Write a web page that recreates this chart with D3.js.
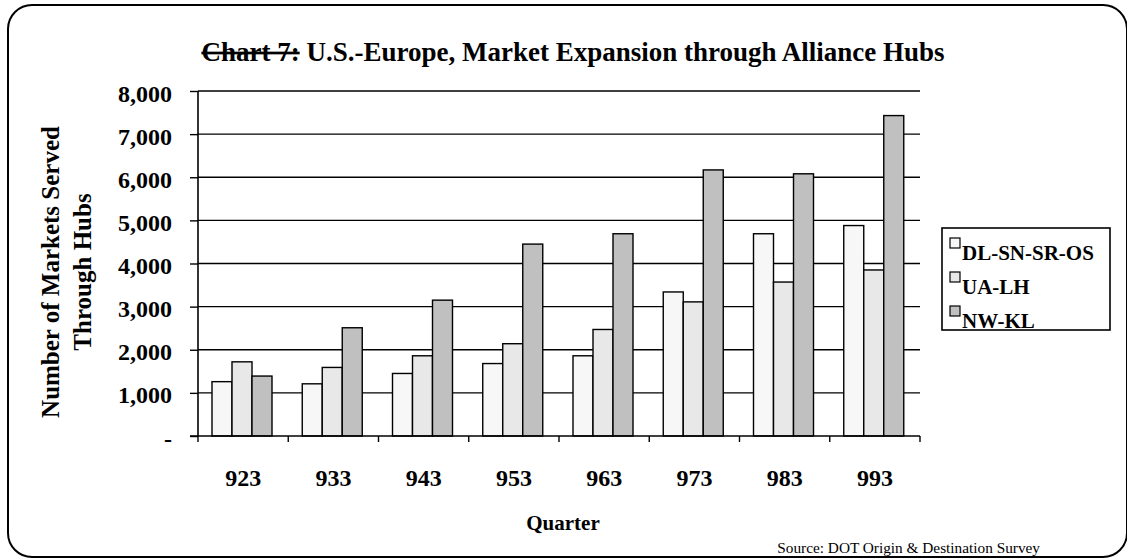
<!DOCTYPE html>
<html>
<head>
<meta charset="utf-8">
<script src="https://cdn.jsdelivr.net/npm/d3@7"></script>
<style>
  body { margin: 0; background: #fff; }
  text { font-family: "Liberation Serif", "Times New Roman", serif; fill: #000; }
</style>
</head>
<body>
<div id="chart"></div>
<script>
// data
var quarters = ["923", "933", "943", "953", "963", "973", "983", "993"];
var seriesNames = ["DL-SN-SR-OS", "UA-LH", "NW-KL"];
var dlValues = [1260, 1210, 1450, 1680, 1860, 3340, 4690, 4880];
var uaValues = [1720, 1590, 1860, 2140, 2470, 3110, 3570, 3850];
var nwValues = [1390, 2510, 3150, 4450, 4690, 6170, 6080, 7430];
var yTicks = [0, 1000, 2000, 3000, 4000, 5000, 6000, 7000, 8000];
var colors = ["#f7f7f7", "#e8e8e8", "#c0c0c0"];

var W = 1127, H = 560;
var svg = d3.select("#chart").append("svg")
    .attr("width", W)
    .attr("height", H);

// rounded outer frame
svg.append("rect")
    .attr("x", 8).attr("y", 5)
    .attr("width", 1119).attr("height", 552)
    .attr("rx", 24).attr("ry", 24)
    .attr("fill", "none")
    .attr("stroke", "#000")
    .attr("stroke-width", 2);

var plotLeft = 198, plotRight = 920, plotTop = 91, plotBottom = 436;

var x = d3.scaleBand().domain(quarters).range([plotLeft, plotRight]).padding(0);
var xInner = d3.scaleBand().domain(seriesNames).range([14, 74]).padding(0);
var y = d3.scaleLinear().domain([0, 8000]).range([plotBottom, plotTop]);

// gridlines
svg.append("g").selectAll("line")
    .data(yTicks.slice(1))
    .enter().append("line")
    .attr("x1", plotLeft).attr("x2", plotRight)
    .attr("y1", function(d){ return y(d); })
    .attr("y2", function(d){ return y(d); })
    .attr("stroke", "#000")
    .attr("stroke-width", 1.4);

// bars
var table = quarters.map(function(q, i){
    return [dlValues[i], uaValues[i], nwValues[i]];
});
var groups = svg.append("g").selectAll("g")
    .data(table)
    .enter().append("g")
    .attr("transform", function(d, i){ return "translate(" + x(quarters[i]) + ",0)"; });

groups.selectAll("rect")
    .data(function(d){ return d; })
    .enter().append("rect")
    .attr("x", function(d, j){ return xInner(seriesNames[j]); })
    .attr("width", xInner.bandwidth())
    .attr("y", function(d){ return y(d); })
    .attr("height", function(d){ return plotBottom - y(d); })
    .attr("fill", function(d, j){ return colors[j]; })
    .attr("stroke", "#000")
    .attr("stroke-width", 1.4);

// y axis
var yAxis = d3.axisLeft(y)
    .tickValues(yTicks)
    .tickSize(8)
    .tickPadding(18)
    .tickFormat(function(d){ return d === 0 ? "-" : d3.format(",")(d); });
var yg = svg.append("g")
    .attr("transform", "translate(" + plotLeft + ",0)")
    .call(yAxis);
yg.select(".domain").attr("stroke-width", 1.6).attr("d", "M0," + plotBottom + "V" + plotTop);
yg.selectAll(".tick line").attr("stroke-width", 1.4);
yg.selectAll("text")
    .style("font-family", "Liberation Serif")
    .style("font-weight", "bold")
    .style("font-size", "24px")
    .attr("dy", "0.42em");

// x axis
var xg = svg.append("g")
    .attr("transform", "translate(0," + plotBottom + ")");
xg.append("line")
    .attr("x1", plotLeft - 8).attr("x2", plotRight)
    .attr("stroke", "#000").attr("stroke-width", 1.6);
xg.selectAll(".xt")
    .data(quarters.concat(["end"]))
    .enter().append("line")
    .attr("class", "xt")
    .attr("x1", function(d){ return d === "end" ? plotRight : x(d); })
    .attr("x2", function(d){ return d === "end" ? plotRight : x(d); })
    .attr("y1", 0).attr("y2", 6)
    .attr("stroke", "#000").attr("stroke-width", 1.4);
xg.selectAll(".xl")
    .data(quarters)
    .enter().append("text")
    .attr("class", "xl")
    .attr("x", function(d){ return x(d) + x.bandwidth() / 2; })
    .attr("y", 50)
    .attr("text-anchor", "middle")
    .style("font-weight", "bold")
    .style("font-size", "24px")
    .text(function(d){ return d; });

// titles
var title = svg.append("text")
    .attr("x", 573).attr("y", 61)
    .attr("text-anchor", "middle")
    .style("font-weight", "bold")
    .style("font-size", "27px");
title.append("tspan")
    .style("text-decoration", "line-through")
    .text("Chart 7:");
title.append("tspan").text(" U.S.-Europe, Market Expansion through Alliance Hubs");

svg.append("text")
    .attr("x", 563).attr("y", 530)
    .attr("text-anchor", "middle")
    .style("font-weight", "bold")
    .style("font-size", "21px")
    .text("Quarter");

var yTitle = svg.append("text")
    .attr("transform", "translate(50,272) rotate(-90)")
    .attr("text-anchor", "middle")
    .style("font-weight", "bold")
    .style("font-size", "25px");
yTitle.append("tspan").attr("x", 0).attr("dy", "0.35em").text("Number of Markets Served");
yTitle.append("tspan").attr("x", 0).attr("dy", "1.28em").text("Through Hubs");

svg.append("text")
    .attr("x", 1040).attr("y", 553)
    .attr("text-anchor", "end")
    .style("font-size", "15.3px")
    .text("Source: DOT Origin & Destination Survey");

// legend
var legend = svg.append("g");
legend.append("rect")
    .attr("x", 942).attr("y", 228)
    .attr("width", 168).attr("height", 102)
    .attr("fill", "#fff")
    .attr("stroke", "#000")
    .attr("stroke-width", 1.6);
var items = legend.selectAll(".li")
    .data(seriesNames)
    .enter().append("g")
    .attr("class", "li")
    .attr("transform", function(d, i){ return "translate(950," + (238 + i * 34) + ")"; });
items.append("rect")
    .attr("width", 10).attr("height", 10)
    .attr("fill", function(d, i){ return colors[i]; })
    .attr("stroke", "#000")
    .attr("stroke-width", 1.2);
items.append("text")
    .attr("x", 12).attr("y", 22)
    .style("font-weight", "bold")
    .style("font-size", "21px")
    .text(function(d){ return d; });
</script>
</body>
</html>
